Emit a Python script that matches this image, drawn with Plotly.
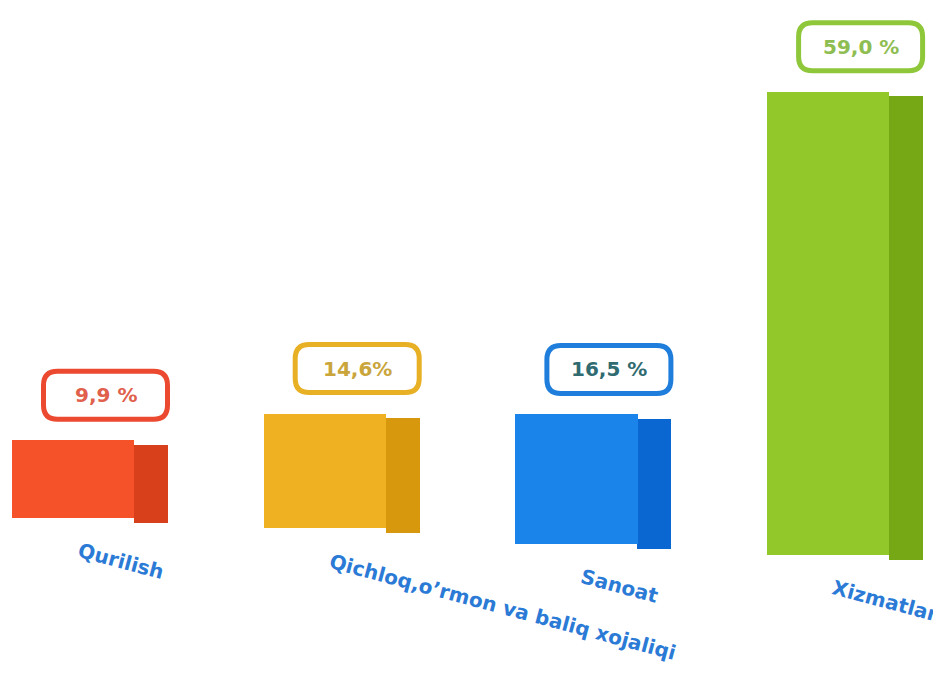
import plotly.graph_objects as go

# ---- data ----
categories = ["Qurilish", "Qichloq,o’rmon va baliq xojaliqi", "Sanoat", "Xizmatlar"]
values = [9.9, 14.6, 16.5, 59.0]
value_labels = ["9,9 %", "14,6%", "16,5 %", "59,0 %"]

# ---- styling (perspective baseline offsets, colours) ----
bases = [0.0, -1.3, -3.3, -4.7]
front_colors = ["#f5522a", "#efb021", "#1b84ea", "#93c82b"]
side_colors = ["#d8401c", "#d7980d", "#0a66d0", "#76a815"]
box_colors = ["#ec4a30", "#e8b025", "#1f7ddc", "#8fc73a"]
text_colors = ["#e0604c", "#c9a53c", "#2f6b70", "#8ebd52"]
label_color = "#2b7bd6"

PAGE_OFF = 8  # default body margin of the html page
PX_PER_UNIT = 7.85
BASE_PX = 518 - PAGE_OFF
H, W = 673, 941
y_top = BASE_PX / PX_PER_UNIT
y_bot = -(H - BASE_PX) / PX_PER_UNIT
X0_PX, STEP_PX = 89.5 - PAGE_OFF, 251.7
x_lo = -X0_PX / STEP_PX
x_hi = (W - X0_PX) / STEP_PX

idx = list(range(len(categories)))
fig = go.Figure()

# side faces
fig.add_trace(go.Bar(
    x=idx, y=values, base=[b - 0.6 for b in bases],
    marker=dict(color=side_colors, line=dict(width=0)),
    width=[0.135] * len(idx), offset=[0.177] * len(idx),
    hoverinfo="skip", showlegend=False))
# front faces
fig.add_trace(go.Bar(
    x=idx, y=values, base=bases,
    marker=dict(color=front_colors, line=dict(width=0)),
    width=[0.486] * len(idx), offset=[-0.308] * len(idx),
    hoverinfo="skip", showlegend=False))

shapes = []
annotations = []
bw, bh, r = 124, 48, 14
cx, cy = 16, 45
for i in idx:
    top = bases[i] + values[i]
    x0, x1 = cx - bw / 2, cx + bw / 2
    y0, y1 = cy - bh / 2, cy + bh / 2
    path = (f"M {x0 + r},{y0} L {x1 - r},{y0} Q {x1},{y0} {x1},{y0 + r} "
            f"L {x1},{y1 - r} Q {x1},{y1} {x1 - r},{y1} L {x0 + r},{y1} "
            f"Q {x0},{y1} {x0},{y1 - r} L {x0},{y0 + r} Q {x0},{y0} {x0 + r},{y0} Z")
    shapes.append(dict(type="path", xref="x", yref="y", xsizemode="pixel", ysizemode="pixel",
                       xanchor=i, yanchor=top, path=path,
                       line=dict(color=box_colors[i], width=5), fillcolor="white"))
    annotations.append(dict(x=i, y=top, xref="x", yref="y", xshift=cx, yshift=cy,
                            text=value_labels[i], showarrow=False, xanchor="center", yanchor="middle",
                            font=dict(family="DejaVu Sans", size=20, color=text_colors[i], weight="bold")))
    annotations.append(dict(x=i, y=bases[i], xref="x", yref="y", xshift=-17, yshift=-18,
                            text=categories[i], showarrow=False, xanchor="left", yanchor="top",
                            textangle=15,
                            font=dict(family="DejaVu Sans", size=20, color=label_color, weight="bold")))

fig.update_layout(
    width=W, height=H, margin=dict(l=0, r=0, t=0, b=0),
    paper_bgcolor="white", plot_bgcolor="white",
    barmode="overlay", bargap=0,
    xaxis=dict(range=[x_lo, x_hi], visible=False, fixedrange=True),
    yaxis=dict(range=[y_bot, y_top], visible=False, fixedrange=True),
    shapes=shapes, annotations=annotations,
)
fig.write_html("out.html")
